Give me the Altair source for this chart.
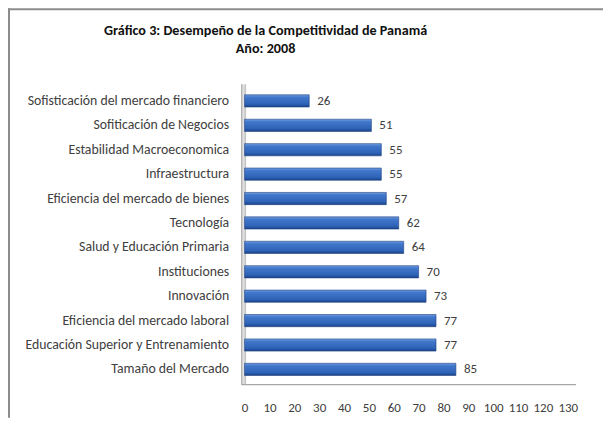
import altair as alt
import pandas as pd

categories = [
    "Sofisticación del mercado financiero",
    "Sofiticación de Negocios",
    "Estabilidad Macroeconomica",
    "Infraestructura",
    "Eficiencia del mercado de bienes",
    "Tecnología",
    "Salud y Educación Primaria",
    "Instituciones",
    "Innovación",
    "Eficiencia del mercado laboral",
    "Educación Superior y Entrenamiento",
    "Tamaño del Mercado",
]
values = [26, 51, 55, 55, 57, 62, 64, 70, 73, 77, 77, 85]
x_ticks = list(range(0, 131, 10))
title_lines = ["Gráfico 3: Desempeño de la Competitividad de Panamá", "Año:  2008"]

df = pd.DataFrame({"cat": categories, "val": values})

W, H = 596, 410
FONT = "Carlito, Lato"

xscale = alt.Scale(domain=[-95.18, 144.18], nice=False, zero=False)
yscale = alt.Scale(paddingInner=0.5, paddingOuter=0.25, range=[80.5, 373.9])

base = alt.Chart(df)

bar_grad = alt.Gradient(
    gradient="linear", x1=0, y1=0, x2=0, y2=1,
    stops=[
        alt.GradientStop(offset=0, color="#739fe0"),
        alt.GradientStop(offset=0.2, color="#4278cc"),
        alt.GradientStop(offset=0.75, color="#2e63b8"),
        alt.GradientStop(offset=1, color="#1c4388"),
    ],
)

bars = base.mark_bar(color=bar_grad, stroke="#1d427f", strokeWidth=0.6).encode(
    x=alt.X("val:Q", scale=xscale, title=None,
            axis=alt.Axis(values=x_ticks, grid=False, domain=False, ticks=False, tickSize=0,
                          labelPadding=0, offset=-10, labelBaseline="middle",
                          labelFont=FONT, labelFontSize=13, labelColor="#404040")),
    y=alt.Y("cat:N", sort=categories, scale=yscale, title=None,
            axis=alt.Axis(domain=False, ticks=False, tickSize=0, labelPadding=0, offset=-221,
                          labelFont=FONT, labelFontSize=13.8, labelColor="#404040",
                          labelLimit=400)),
)

labels = base.mark_text(align="left", baseline="middle", dx=8, font=FONT, fontSize=13,
                        color="#404040").encode(
    x=alt.X("val:Q"),
    y=alt.Y("cat:N", sort=categories),
    text=alt.Text("val:Q"),
)

wall_grad = alt.Gradient(
    gradient="linear", x1=0, y1=0, x2=1, y2=0,
    stops=[
        alt.GradientStop(offset=0, color="#9a9a9a"),
        alt.GradientStop(offset=0.4, color="#e6e6e6"),
        alt.GradientStop(offset=1, color="#bdbdbd"),
    ],
)
wall = alt.Chart(pd.DataFrame({"a": [0]})).mark_rect(color=wall_grad).encode(
    x=alt.datum(-1.4), x2=alt.datum(0.6), y=alt.value(76), y2=alt.value(377)
)
floor = alt.Chart(pd.DataFrame({"a": [0]})).mark_rule(color="#a6a6a6", strokeWidth=1.2).encode(
    x=alt.datum(-1.2), x2=alt.datum(133.3), y=alt.value(377)
)
border_left = alt.Chart(pd.DataFrame({"a": [0]})).mark_rule(color="#8c8c8c", strokeWidth=2).encode(
    x=alt.value(1), y=alt.value(0), y2=alt.value(H)
)
border_top = alt.Chart(pd.DataFrame({"a": [0]})).mark_rule(color="#8c8c8c", strokeWidth=2).encode(
    y=alt.value(1), x=alt.value(0), x2=alt.value(W)
)

chart = alt.layer(wall, floor, bars, labels, border_left, border_top).properties(
    width=W, height=H,
    autosize=alt.AutoSizeParams(type="none"),
    padding=0,
    background="white",
    title=alt.TitleParams(text=title_lines, font=FONT, fontSize=14.2, fontWeight="bold",
                          color="#111111", anchor="middle", dx=-40, dy=53, lineHeight=18),
).configure_view(stroke="transparent")

chart.save("out.html", embed_options={"renderer": "svg", "actions": False})
